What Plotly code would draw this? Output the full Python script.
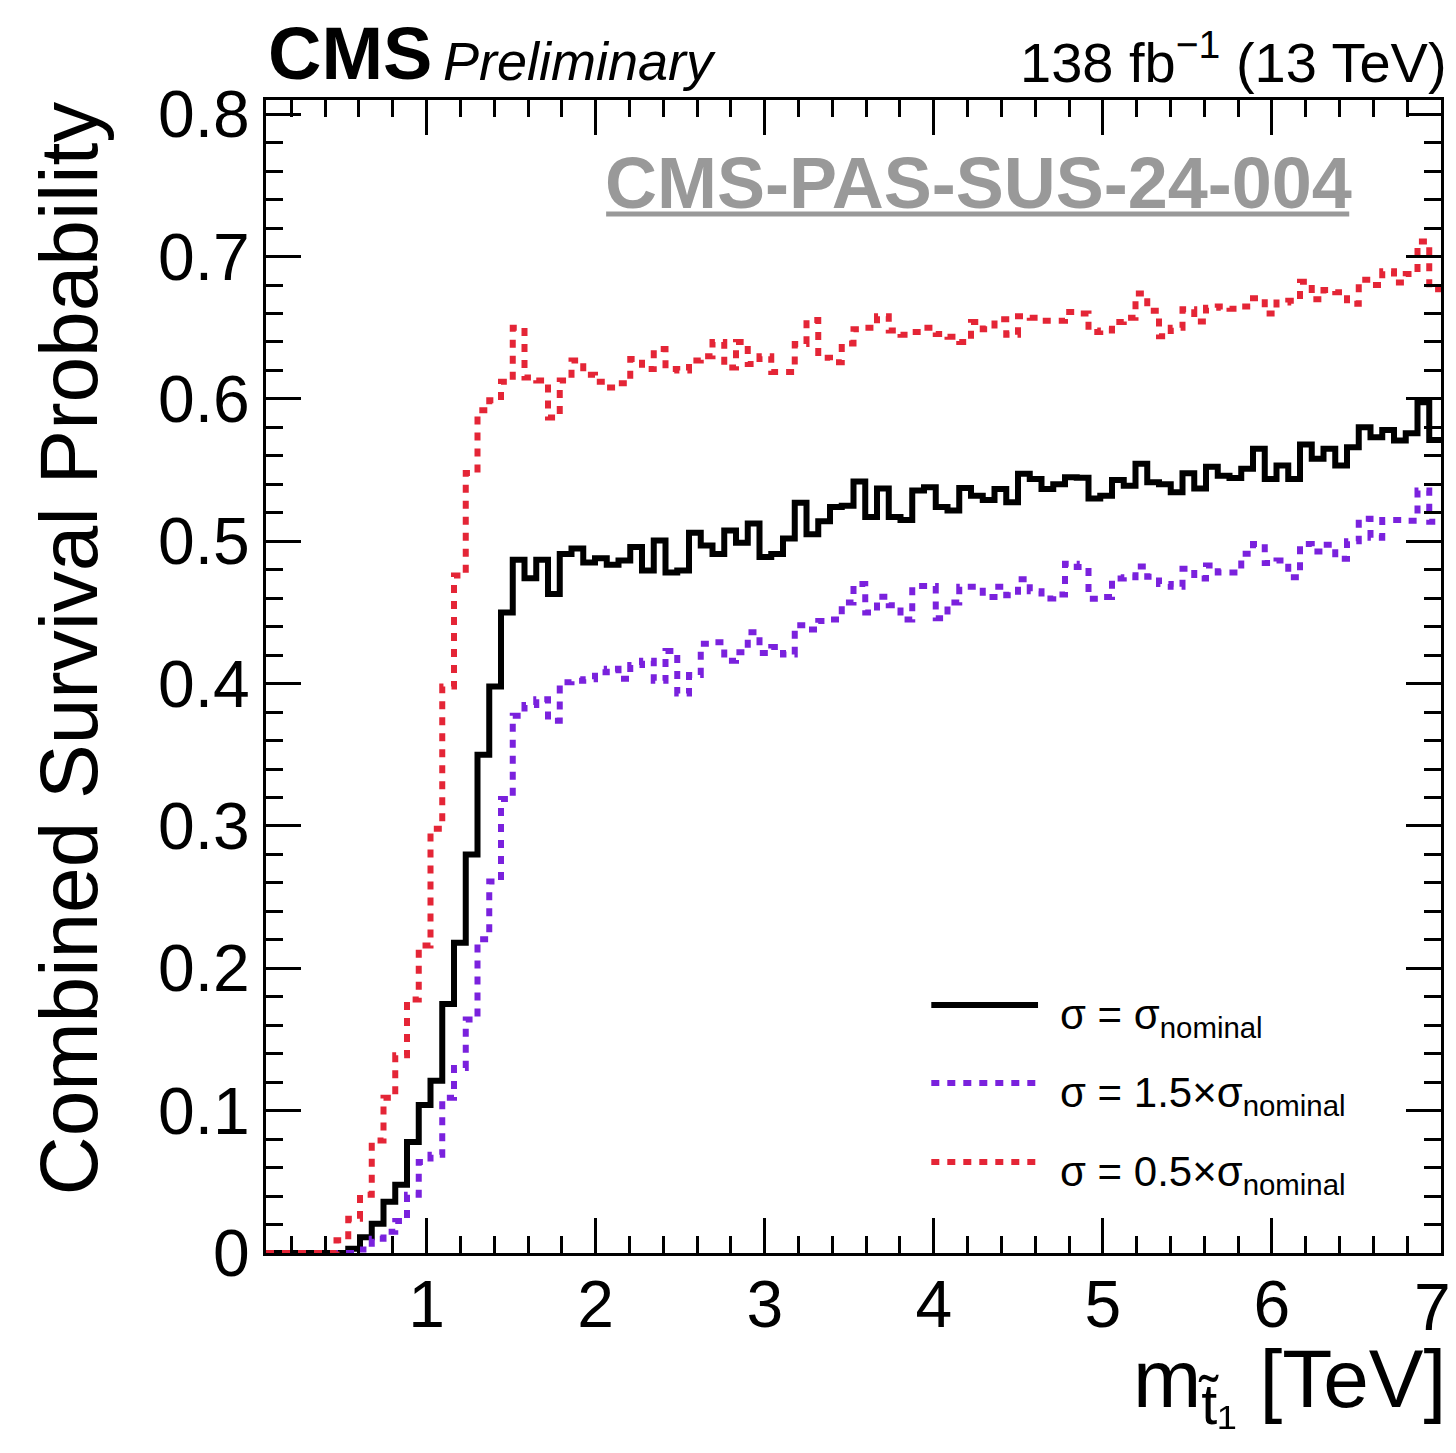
import numpy as np
import plotly.graph_objects as go

# ---------------- data ----------------
BIN_LO, BIN_HI, N_BINS = 0.05, 7.0, 100

nominal = [0, 0, 0, 0, 0, 0, 0, 0.003, 0.011, 0.0205,
           0.036, 0.048, 0.078, 0.104, 0.121, 0.175, 0.218, 0.280, 0.350, 0.398,
           0.450, 0.487, 0.474, 0.487, 0.463, 0.491, 0.495, 0.485, 0.488, 0.4835,
           0.4865, 0.496, 0.4795, 0.5005, 0.478, 0.4795, 0.506, 0.497, 0.491, 0.5075,
           0.499, 0.5125, 0.489, 0.491, 0.502, 0.527, 0.505, 0.514, 0.524, 0.525,
           0.542, 0.517, 0.537, 0.517, 0.515, 0.5356, 0.538, 0.524, 0.5216, 0.5375,
           0.532, 0.529, 0.5368, 0.5274, 0.5474, 0.5438, 0.5368, 0.540, 0.545, 0.5446,
           0.530, 0.532, 0.543, 0.539, 0.5544, 0.5415, 0.540, 0.5345, 0.5478, 0.537,
           0.5524, 0.546, 0.5445, 0.551, 0.565, 0.5438, 0.5532, 0.5438, 0.568, 0.5579,
           0.565, 0.5532, 0.566, 0.5801, 0.5731, 0.5782, 0.5708, 0.5759, 0.5977, 0.5712]

x1p5 = [0, 0, 0, 0, 0, 0, 0, 0, 0.0025, 0.010,
        0.015, 0.0225, 0.041, 0.064, 0.069, 0.109, 0.130, 0.164, 0.2205, 0.261,
        0.319, 0.3775, 0.385, 0.389, 0.374, 0.401, 0.402, 0.403, 0.408, 0.4105,
        0.4035, 0.413, 0.416, 0.402, 0.423, 0.393, 0.406, 0.428, 0.429, 0.416,
        0.422, 0.436, 0.4215, 0.4257, 0.4205, 0.441, 0.438, 0.444, 0.445, 0.457,
        0.470, 0.450, 0.461, 0.455, 0.445, 0.4685, 0.4685, 0.446, 0.457, 0.468,
        0.468, 0.4608, 0.468, 0.462, 0.4733, 0.4649, 0.4598, 0.4626, 0.4842, 0.482,
        0.4597, 0.4609, 0.4739, 0.4748, 0.4822, 0.475, 0.470, 0.468, 0.4807, 0.4738,
        0.483, 0.478, 0.478, 0.4912, 0.498, 0.4847, 0.4865, 0.4748, 0.498, 0.4928,
        0.4975, 0.4877, 0.500, 0.5158, 0.5025, 0.5149, 0.5149, 0.5145, 0.5357, 0.5138]

x0p5 = [0, 0, 0, 0, 0, 0, 0.009, 0.024, 0.041, 0.079,
        0.109, 0.139, 0.178, 0.216, 0.298, 0.398, 0.476, 0.548, 0.592, 0.599,
        0.612, 0.650, 0.615, 0.613, 0.587, 0.613, 0.627, 0.617, 0.612, 0.608,
        0.611, 0.628, 0.621, 0.635, 0.621, 0.620, 0.627, 0.630, 0.640, 0.622,
        0.640, 0.6245, 0.630, 0.619, 0.619, 0.6386, 0.6554, 0.629, 0.6257, 0.639,
        0.649, 0.650, 0.658, 0.648, 0.645, 0.647, 0.650, 0.6456, 0.6437, 0.640,
        0.654, 0.649, 0.656, 0.645, 0.658, 0.657, 0.655, 0.655, 0.661, 0.660,
        0.647, 0.648, 0.654, 0.657, 0.674, 0.662, 0.644, 0.650, 0.663, 0.6544,
        0.664, 0.665, 0.6634, 0.665, 0.6708, 0.660, 0.6678, 0.669, 0.6823, 0.670,
        0.6765, 0.675, 0.6668, 0.6837, 0.680, 0.6897, 0.6818, 0.6877, 0.7106, 0.677]

series_labels = ["σ = σ<sub>nominal</sub>",
                 "σ = 1.5×σ<sub>nominal</sub>",
                 "σ = 0.5×σ<sub>nominal</sub>"]
x_ticks = [1, 2, 3, 4, 5, 6, 7]
y_ticks = [0, 0.1, 0.2, 0.3, 0.4, 0.5, 0.6, 0.7, 0.8]
y_tick_text = ["0", "0.1", "0.2", "0.3", "0.4", "0.5", "0.6", "0.7", "0.8"]

# ---------------- figure ----------------
W, H = 1456, 1453
L, T = 266, 100
R = W - 1444
B = H - 1253
PW, PH = W - L - R, H - T - B
FONT = "Liberation Sans, Arial, Helvetica, sans-serif"
TICK_SIZE = 66

BLACK = "#000000"
PURPLE = "#7a21dd"
RED = "#e42536"
DOT = "8px,8px"
LW = 6


def px(x):  # page pixel -> paper fraction
    return (x - L) / PW


def py(y):
    return (H - B - y) / PH


edges = np.linspace(BIN_LO, BIN_HI, N_BINS + 1)


def steps(vals):
    return list(edges), list(vals) + [vals[-1]]


fig = go.Figure()
for vals, col, dash in [(nominal, BLACK, "solid"), (x1p5, PURPLE, DOT), (x0p5, RED, DOT)]:
    xs, ys = steps(vals)
    fig.add_trace(go.Scatter(x=xs, y=ys, mode="lines",
                             line=dict(shape="hv", color=col, width=LW, dash=dash),
                             showlegend=False, hoverinfo="skip"))

axis_common = dict(showgrid=False, zeroline=False, showline=True, linewidth=3,
                   linecolor="black", mirror="allticks", ticks="inside",
                   ticklen=35, tickwidth=3, tickcolor="black",
                   tickfont=dict(family=FONT, size=TICK_SIZE, color="black"))

# the last x label sits on the page edge; it is drawn as an annotation kept inside the page
x_tick_text = [str(v) for v in x_ticks[:-1]] + [""]

fig.update_layout(
    width=W, height=H, autosize=False,
    margin=dict(l=L, r=R, t=T, b=B),
    paper_bgcolor="white", plot_bgcolor="white",
    xaxis=dict(range=[BIN_LO, BIN_HI], tickmode="array", tickvals=x_ticks,
               ticktext=x_tick_text, ticklabelstandoff=-8,
               minor=dict(tickmode="linear", tick0=0, dtick=0.2, ticks="inside",
                          ticklen=17, tickwidth=3, tickcolor="black"),
               **axis_common),
    yaxis=dict(range=[0, 0.81], tickmode="array", tickvals=y_ticks, ticktext=y_tick_text,
               minor=dict(tickmode="linear", tick0=0, dtick=0.02, ticks="inside",
                          ticklen=17, tickwidth=3, tickcolor="black"),
               **axis_common),
)

ann = []
ann.append(dict(text=str(x_ticks[-1]), xref="x", x=x_ticks[-1], xanchor="right", xshift=12,
                y=py(1307), yanchor="middle",
                font=dict(family=FONT, size=TICK_SIZE, color="black")))
ann.append(dict(text="<b>CMS</b>", x=px(266), y=py(54), xanchor="left", yanchor="middle",
                font=dict(family=FONT, size=74, color="black")))
ann.append(dict(text="<i>Preliminary</i>", x=px(441), y=py(61), xanchor="left", yanchor="middle",
                font=dict(family=FONT, size=54, color="black")))
ann.append(dict(text="138 fb<sup>−1</sup> (13 TeV)", x=px(1452), y=py(96), xanchor="right",
                yanchor="bottom", font=dict(family=FONT, size=56, color="black")))
ann.append(dict(text="<b>CMS-PAS-SUS-24-004</b>", x=px(980), y=py(183), xanchor="center",
                yanchor="middle", font=dict(family=FONT, size=72, color="#999999")))
ann.append(dict(text="Combined Survival Probability", textangle=-90, x=px(67), y=py(100),
                xanchor="center", yanchor="top", font=dict(family=FONT, size=82, color="black")))
ann.append(dict(text="m<sub>t̃₁</sub> [TeV]", x=px(1451), y=py(1384), xanchor="right",
                yanchor="middle", font=dict(family=FONT, size=82, color="black")))

leg_y = [1005, 1083, 1162]
leg_col = [BLACK, PURPLE, RED]
leg_dash = ["solid", DOT, DOT]
shapes = []
shapes.append(dict(type="line", xref="paper", yref="paper", x0=px(607), x1=px(1352),
                   y0=py(214), y1=py(214), line=dict(color="#999999", width=5)))
for yy, col, dsh, lab in zip(leg_y, leg_col, leg_dash, series_labels):
    shapes.append(dict(type="line", xref="paper", yref="paper", x0=px(933), x1=px(1040),
                       y0=py(yy), y1=py(yy), line=dict(color=col, width=LW, dash=dsh)))
    ann.append(dict(text=lab, x=px(1060), y=py(yy + 12), xanchor="left", yanchor="middle",
                    font=dict(family=FONT, size=42, color="black")))

for a in ann:
    a.setdefault("xref", "paper")
    a.update(yref="paper", showarrow=False)
fig.update_layout(annotations=ann, shapes=shapes)

# page styling: no body margin so the figure fills the window exactly
PAGE_JS = "document.body.style.margin='0';"
fig.write_html("out.html", div_id="cms-plot", post_script=PAGE_JS,
               config={"displayModeBar": False, "staticPlot": True})
